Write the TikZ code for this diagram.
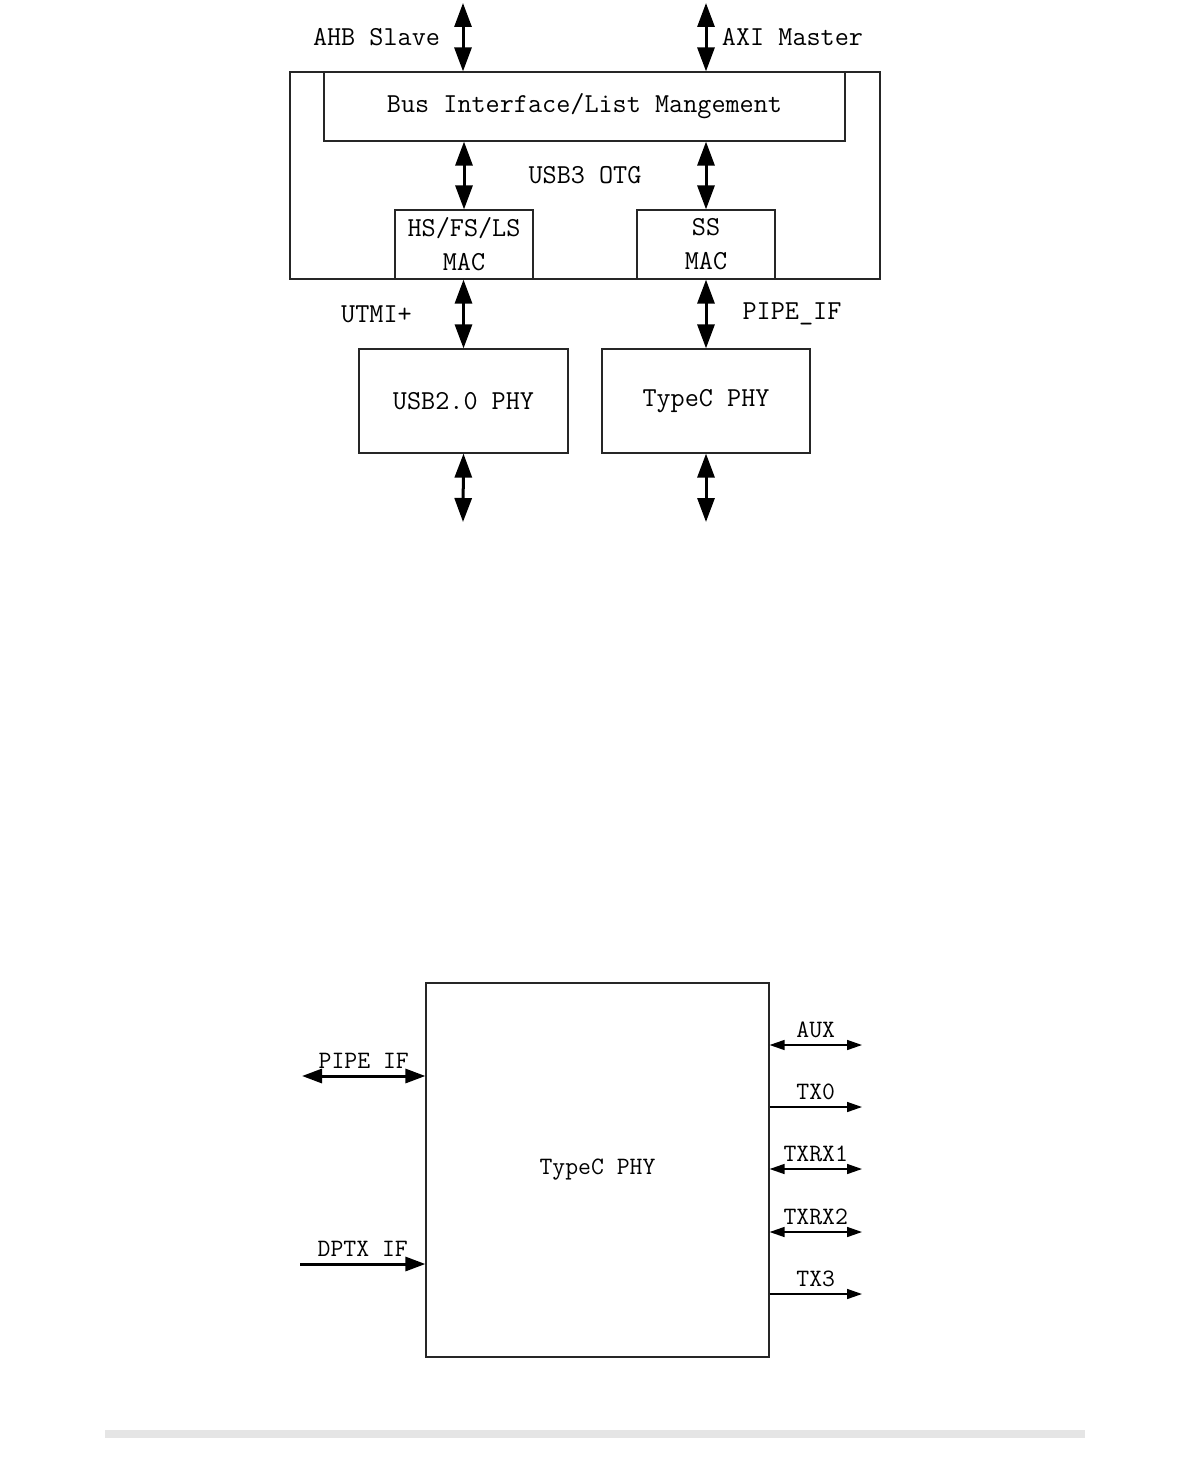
\documentclass[tikz,border=0pt]{standalone}
\usepackage{fontspec}
\usetikzlibrary{arrows.meta,positioning,calc}

\begin{document}
\begin{tikzpicture}[
    x=1pt, y=-1pt,
    box/.style={rectangle, draw=black!85, line width=1.2pt, inner sep=0pt, align=center, font=\ttfamily\fontsize{27.4}{34}\selectfont},
    lbl/.style={inner sep=0pt, font=\ttfamily\fontsize{27.4}{34}\selectfont},
    sig/.style={inner sep=0pt, font=\ttfamily\fontsize{25}{28}\selectfont},
    busarrow/.style={{Triangle[width=17pt,length=24pt]}-{Triangle[width=17pt,length=24pt]}, line width=3pt},
    ifboth/.style={{Triangle[width=14pt,length=20pt]}-{Triangle[width=14pt,length=20pt]}, line width=3pt},
    ifin/.style={-{Triangle[width=14pt,length=20pt]}, line width=3pt},
    laneboth/.style={{Triangle[width=10pt,length=15pt]}-{Triangle[width=10pt,length=15pt]}, line width=1.5pt},
    laneout/.style={-{Triangle[width=10pt,length=15pt]}, line width=1.5pt}
]
\useasboundingbox (0,0) rectangle (1190,1458);

% 1. USB3 OTG controller
\node[box, minimum width=590pt, minimum height=207pt] (otg) at (585,175.5) {USB3 OTG};
\node[box, minimum width=521pt, minimum height=69pt] (bus) at (584.5,106.5) {Bus Interface/List Mangement};
\node[box, minimum width=138pt, minimum height=69pt] (hsmac) at (464,244.5) {HS/FS/LS\\MAC};
\node[box, minimum width=138pt, minimum height=69pt] (ssmac) at (706,244.5) {SS\\MAC};

% 2. PHYs
\node[box, minimum width=209pt, minimum height=104pt] (usbphy) at (463.5,401) {USB2.0 PHY};
\node[box, minimum width=208pt, minimum height=104pt] (tcphy) at (706,401) {TypeC PHY};

% 3. Bus ports and pads
\coordinate (ahb) at (463,3);
\coordinate (axi) at (706,3);
\coordinate (usbpad) at (463,522);
\coordinate (tcpad) at (706,522);
\node[lbl] (ahblbl) at (376.5,37) {AHB Slave};
\node[lbl] (axilbl) at (792.5,37) {AXI Master};
\node[lbl] (utmilbl) at (376.5,314) {UTMI+};
\node[lbl] (pipelbl) at (792,314) {PIPE\_IF};

\draw[busarrow] (ahb) -- (ahb |- otg.north);
\draw[busarrow] (axi) -- (axi |- otg.north);
\draw[busarrow] (hsmac.north |- bus.south) -- (hsmac.north);
\draw[busarrow] (ssmac.north |- bus.south) -- (ssmac.north);
\draw[busarrow] (usbphy.north |- otg.south) -- (usbphy.north);
\draw[busarrow] (tcphy.north |- otg.south) -- (tcphy.north);
\draw[busarrow] (usbphy.south) -- (usbpad);
\draw[busarrow] (tcphy.south) -- (tcpad);

% 4. TypeC PHY interfaces
\node[box, minimum width=343pt, minimum height=374pt, font=\ttfamily\fontsize{25}{28}\selectfont] (phy) at (597.5,1170) {TypeC PHY};

\coordinate (pipe) at (302,1076);
\coordinate (dptx) at (300,1264);
\draw[ifboth] (pipe) -- node[sig, above=6pt] {PIPE IF} (pipe -| phy.west);
\draw[ifin] (dptx) -- node[sig, above=6pt] {DPTX IF} (dptx -| phy.west);

\coordinate (aux) at (862,1045);
\coordinate (tx0) at (862,1107);
\coordinate (txrx1) at (862,1169);
\coordinate (txrx2) at (862,1232);
\coordinate (tx3) at (862,1294);
\draw[laneboth] (aux -| phy.east) -- node[sig, above=6pt] {AUX} (aux);
\draw[laneout] (tx0 -| phy.east) -- node[sig, above=6pt] {TX0} (tx0);
\draw[laneboth] (txrx1 -| phy.east) -- node[sig, above=6pt] {TXRX1} (txrx1);
\draw[laneboth] (txrx2 -| phy.east) -- node[sig, above=6pt] {TXRX2} (txrx2);
\draw[laneout] (tx3 -| phy.east) -- node[sig, above=6pt] {TX3} (tx3);

% page rule
\fill[black!10] (105,1430) rectangle (1085,1438);

\end{tikzpicture}
\end{document}
